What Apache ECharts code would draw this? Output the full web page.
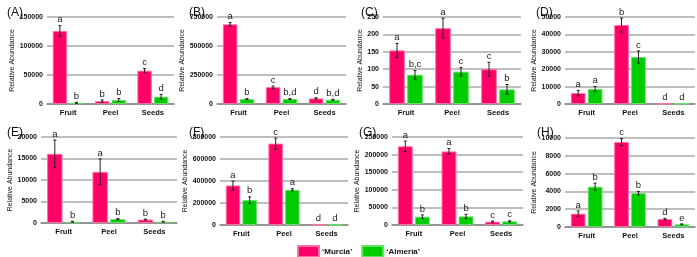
<!DOCTYPE html>
<html>
<head>
<meta charset="utf-8">
<script src="https://cdn.jsdelivr.net/npm/echarts@6/dist/echarts.min.js"></script>
<style>
  html, body { margin: 0; padding: 0; background: #fff; }
  #chart { width: 697px; height: 257px; }
</style>
</head>
<body>
<div id="chart"></div>
<script>
// categories and series names
const categories = ['Fruit', 'Peel', 'Seeds'];
const seriesNames = ['\u2018Murcia\u2019', '\u2018Almer\u00eda\u2019'];

// panel (A)
const murciaA = [126000, 5000, 57500];
const almeriaA = [2000, 7000, 12600];
const murciaErrA = [9000, 2000, 3500];
const almeriaErrA = [1000, 2500, 4000];
const murciaLetA = ['a', 'b', 'c'];
const almeriaLetA = ['b', 'b', 'd'];
const axisA = [0, 150000, 50000];

// panel (B)
const murciaB = [687000, 145000, 48000];
const almeriaB = [43000, 43000, 37000];
const murciaErrB = [15000, 10000, 6000];
const almeriaErrB = [3000, 4000, 4000];
const murciaLetB = ['a', 'c', 'd'];
const almeriaLetB = ['b', 'b,d', 'b,d'];
const axisB = [0, 750000, 250000];

// panel (C)
const murciaC = [154, 218, 100];
const almeriaC = [84, 93, 42];
const murciaErrC = [20, 28, 20];
const almeriaErrC = [12, 12, 14];
const murciaLetC = ['a', 'a', 'c'];
const almeriaLetC = ['b,c', 'c', 'b'];
const axisC = [0, 250, 50];

// panel (D)
const murciaD = [6300, 45400, 200];
const almeriaD = [8600, 27000, 300];
const murciaErrD = [1500, 4000, 0];
const almeriaErrD = [1500, 3500, 0];
const murciaLetD = ['a', 'b', 'd'];
const almeriaLetD = ['a', 'c', 'd'];
const axisD = [0, 50000, 10000];

// panel (E)
const murciaE = [16100, 11900, 800];
const almeriaE = [300, 900, 300];
const murciaErrE = [3200, 3000, 100];
const almeriaErrE = [100, 100, 100];
const murciaLetE = ['a', 'a', 'b'];
const almeriaLetE = ['b', 'b', 'b'];
const axisE = [0, 20000, 5000];

// panel (F)
const murciaF = [359000, 740000, 3000];
const almeriaF = [226000, 320000, 3000];
const murciaErrF = [40000, 50000, 0];
const almeriaErrF = [30000, 10000, 0];
const murciaLetF = ['a', 'c', 'd'];
const almeriaLetF = ['b', 'a', 'd'];
const axisF = [0, 800000, 200000];

// panel (G)
const murciaG = [223600, 209000, 9400];
const almeriaG = [23600, 24500, 10400];
const murciaErrG = [15000, 8000, 1500];
const almeriaErrG = [5000, 6000, 1500];
const murciaLetG = ['a', 'a', 'c'];
const almeriaLetG = ['b', 'b', 'c'];
const axisG = [0, 250000, 50000];

// panel (H)
const murciaH = [1500, 9550, 900];
const almeriaH = [4530, 3800, 300];
const murciaErrH = [300, 400, 80];
const almeriaErrH = [400, 200, 50];
const murciaLetH = ['a', 'c', 'd'];
const almeriaLetH = ['b', 'b', 'e'];
const axisH = [0, 10000, 2000];

const panels = [
  { title: '(A)', murcia: murciaA, almeria: almeriaA, mErr: murciaErrA, aErr: almeriaErrA, mLet: murciaLetA, aLet: almeriaLetA, axis: axisA },
  { title: '(B)', murcia: murciaB, almeria: almeriaB, mErr: murciaErrB, aErr: almeriaErrB, mLet: murciaLetB, aLet: almeriaLetB, axis: axisB },
  { title: '(C)', murcia: murciaC, almeria: almeriaC, mErr: murciaErrC, aErr: almeriaErrC, mLet: murciaLetC, aLet: almeriaLetC, axis: axisC },
  { title: '(D)', murcia: murciaD, almeria: almeriaD, mErr: murciaErrD, aErr: almeriaErrD, mLet: murciaLetD, aLet: almeriaLetD, axis: axisD },
  { title: '(E)', murcia: murciaE, almeria: almeriaE, mErr: murciaErrE, aErr: almeriaErrE, mLet: murciaLetE, aLet: almeriaLetE, axis: axisE },
  { title: '(F)', murcia: murciaF, almeria: almeriaF, mErr: murciaErrF, aErr: almeriaErrF, mLet: murciaLetF, aLet: almeriaLetF, axis: axisF },
  { title: '(G)', murcia: murciaG, almeria: almeriaG, mErr: murciaErrG, aErr: almeriaErrG, mLet: murciaLetG, aLet: almeriaLetG, axis: axisG },
  { title: '(H)', murcia: murciaH, almeria: almeriaH, mErr: murciaErrH, aErr: almeriaErrH, mLet: murciaLetH, aLet: almeriaLetH, axis: axisH }
];

// layout of each panel in pixels
const layout = [
  { left: 47, top: 17, width: 127, height: 87, nameX: 14, tx: 2, ty: 2 },
  { left: 217, top: 17, width: 129, height: 87, nameX: 189, tx: 184, ty: 2 },
  { left: 383, top: 17, width: 138, height: 87, nameX: 362, tx: 356, ty: 2 },
  { left: 565, top: 17, width: 130, height: 87, nameX: 535, tx: 531, ty: 2 },
  { left: 41, top: 137, width: 136, height: 86, nameX: 24, tx: 2, ty: 122 },
  { left: 220, top: 137, width: 128, height: 88, nameX: 191, tx: 184, ty: 122 },
  { left: 392, top: 137, width: 131, height: 88, nameX: 362, tx: 354, ty: 122 },
  { left: 565, top: 138, width: 130, height: 89, nameX: 535, tx: 532, ty: 122 }
];

const colors = ['#ff0066', '#00cc00'];
const borders = ['#ff6fa6', '#66e066'];
const BAR_W = 0.34, BAR_GAP = 0.15;
const FONT = 'Liberation Sans, Arial';

const chart = echarts.init(document.getElementById('chart'));

// error bar + significance letter, drawn from the data through the axes
function errorRenderer(side, letters) {
  return function (params, api) {
    const cat = api.value(0);
    const mean = api.value(1);
    const err = api.value(2);
    const catW = api.size([1, 0])[0];
    const w = catW * BAR_W;
    const dx = side * (w + w * BAR_GAP) / 2;
    const hi = api.coord([cat, mean + err]);
    const lo = api.coord([cat, Math.max(mean - err, 0)]);
    const x = hi[0] + dx;
    const children = [];
    const style = { stroke: '#222', lineWidth: 1 };
    if (err > 0) {
      children.push({ type: 'line', shape: { x1: x, y1: hi[1], x2: x, y2: lo[1] }, style: style });
      children.push({ type: 'line', shape: { x1: x - 1.5, y1: hi[1], x2: x + 1.5, y2: hi[1] }, style: style });
      children.push({ type: 'line', shape: { x1: x - 1.5, y1: lo[1], x2: x + 1.5, y2: lo[1] }, style: style });
    }
    children.push({
      type: 'text',
      style: {
        text: letters[params.dataIndex], x: x, y: hi[1] - 1,
        align: 'center', verticalAlign: 'bottom',
        fontSize: 9.5, fontFamily: FONT, fill: '#222'
      }
    });
    return { type: 'group', children: children };
  };
}

const grid = [], xAxis = [], yAxis = [], series = [], title = [];
panels.forEach(function (p, i) {
  const L = layout[i];
  grid.push({ left: L.left, top: L.top, width: L.width, height: L.height });
  title.push({
    text: p.title, left: L.tx, top: L.ty,
    textStyle: { fontSize: 12, fontWeight: 'normal', fontFamily: FONT, color: '#111' }
  });
  xAxis.push({
    type: 'category', gridIndex: i, data: categories,
    axisLine: { lineStyle: { color: '#888', width: 1.5 } },
    axisTick: { show: false },
    axisLabel: { fontSize: 7.5, fontWeight: 'bold', color: '#111', margin: 5, fontFamily: FONT }
  });
  yAxis.push({
    type: 'value', gridIndex: i,
    min: p.axis[0], max: p.axis[1], interval: p.axis[2],
    name: 'Relative Abundance', nameLocation: 'middle', nameRotate: 90,
    nameGap: L.left - L.nameX - 3.5,
    nameTextStyle: { fontSize: 7, color: '#111', fontFamily: FONT },
    axisLine: { show: false }, axisTick: { show: false },
    axisLabel: {
      fontSize: 7, fontWeight: 'bold', color: '#111', margin: 4, fontFamily: FONT,
      formatter: function (v) { return String(v); }
    },
    splitLine: { lineStyle: { color: '#a8a8a8', width: 1.5 } }
  });
  [p.murcia, p.almeria].forEach(function (vals, s) {
    series.push({
      name: seriesNames[s], type: 'bar', xAxisIndex: i, yAxisIndex: i,
      data: vals, barWidth: (BAR_W * 100) + '%', barGap: (BAR_GAP * 100) + '%',
      itemStyle: { color: colors[s], borderColor: borders[s], borderWidth: 1 },
      silent: true
    });
  });
  const errs = [p.mErr, p.aErr], lets = [p.mLet, p.aLet], means = [p.murcia, p.almeria];
  [0, 1].forEach(function (s) {
    series.push({
      type: 'custom', xAxisIndex: i, yAxisIndex: i, silent: true, clip: false, z: 5,
      renderItem: errorRenderer(s === 0 ? -1 : 1, lets[s]),
      encode: { x: 0, y: 1 },
      data: categories.map(function (c, k) { return [k, means[s][k], errs[s][k]]; })
    });
  });
});

const option = {
  animation: false,
  title: title,
  grid: grid,
  xAxis: xAxis,
  yAxis: yAxis,
  legend: {
    data: seriesNames, left: 297, top: 245, padding: 0,
    itemWidth: 21, itemHeight: 11, itemGap: 9, icon: 'rect',
    textStyle: { fontSize: 8, fontWeight: 'bold', color: '#111', fontFamily: FONT, padding: [0, 0, 0, -2] }
  },
  series: series
};

chart.setOption(option);
</script>
</body>
</html>
